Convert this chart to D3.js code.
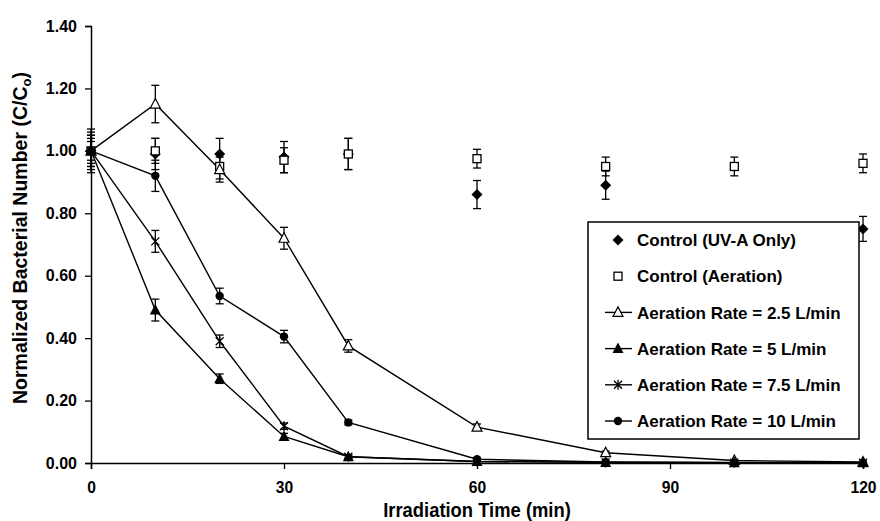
<!DOCTYPE html>
<html><head><meta charset="utf-8">
<script src="https://cdn.jsdelivr.net/npm/d3@7/dist/d3.min.js"></script>
<style>
body{margin:0;background:#fff}
text{font-family:"Liberation Sans",Arial,sans-serif;font-weight:bold;fill:#000}
</style>
</head><body>
<svg id="chart" width="880" height="521"></svg>
<script>
// ---- data ----
const xTicks = [0, 30, 60, 90, 120];
const yTicks = [0, 0.2, 0.4, 0.6, 0.8, 1.0, 1.2, 1.4];

const uvaTimes  = [0, 10, 20, 30, 40, 60, 80, 120];
const uvaValues = [1.00, 0.99, 0.99, 0.98, 0.99, 0.86, 0.89, 0.75];
const uvaErrors = [0.07, 0.05, 0.05, 0.05, 0.05, 0.045, 0.045, 0.04];

const aerTimes  = [0, 10, 20, 30, 40, 60, 80, 100, 120];
const aerValues = [1.00, 1.00, 0.95, 0.97, 0.99, 0.975, 0.95, 0.95, 0.96];
const aerErrors = [0.05, 0.04, 0.04, 0.04, 0.05, 0.03, 0.03, 0.03, 0.03];

const rateTimes = [0, 10, 20, 30, 40, 60, 80, 100, 120];
const rate25Values = [1.00, 1.15, 0.94, 0.72, 0.375, 0.115, 0.033, 0.008, 0.003];
const rate25Errors = [0.06, 0.06, 0.04, 0.035, 0.02, 0.01, 0.005, 0.003, 0.002];
const rate5Values  = [1.00, 0.49, 0.27, 0.085, 0.02, 0.005, 0.002, 0.001, 0.001];
const rate5Errors  = [0.04, 0.035, 0.015, 0.01, 0.005, 0.003, 0.002, 0.001, 0.001];
const rate75Values = [1.00, 0.71, 0.39, 0.118, 0.02, 0.005, 0.002, 0.001, 0.001];
const rate75Errors = [0.03, 0.035, 0.02, 0.01, 0.005, 0.003, 0.002, 0.001, 0.001];
const rate10Values = [1.00, 0.92, 0.535, 0.405, 0.13, 0.012, 0.003, 0.002, 0.001];
const rate10Errors = [0.05, 0.05, 0.025, 0.02, 0.008, 0.004, 0.002, 0.001, 0.001];

const seriesNames = ["Control (UV-A Only)", "Control (Aeration)",
  "Aeration Rate = 2.5 L/min", "Aeration Rate = 5 L/min",
  "Aeration Rate = 7.5 L/min", "Aeration Rate = 10 L/min"];

// ---- setup ----
const svg = d3.select("#chart");
const x = d3.scaleLinear().domain([0, 120]).range([91, 863]);
const y = d3.scaleLinear().domain([0, 1.4]).range([463, 26]);

const series = [
  {name: seriesNames[0], t: uvaTimes, v: uvaValues, e: uvaErrors, marker: "diamond", line: false},
  {name: seriesNames[1], t: aerTimes, v: aerValues, e: aerErrors, marker: "square", line: false},
  {name: seriesNames[2], t: rateTimes, v: rate25Values, e: rate25Errors, marker: "triOpen", line: true},
  {name: seriesNames[3], t: rateTimes, v: rate5Values, e: rate5Errors, marker: "triFilled", line: true},
  {name: seriesNames[4], t: rateTimes, v: rate75Values, e: rate75Errors, marker: "star", line: true},
  {name: seriesNames[5], t: rateTimes, v: rate10Values, e: rate10Errors, marker: "circle", line: true}
];

function drawMarker(g, type, cx, cy) {
  const m = g.append("g").attr("transform", `translate(${cx},${cy})`);
  if (type === "diamond") {
    m.append("path").attr("d", "M0,-5.5L5.5,0L0,5.5L-5.5,0Z").attr("fill", "#000");
  } else if (type === "square") {
    m.append("rect").attr("x", -4).attr("y", -4).attr("width", 8).attr("height", 8)
      .attr("fill", "#fff").attr("stroke", "#000").attr("stroke-width", 1.3);
  } else if (type === "triOpen") {
    m.append("path").attr("d", "M0,-5.5L5,4L-5,4Z").attr("fill", "#fff").attr("stroke", "#000").attr("stroke-width", 1.2);
  } else if (type === "triFilled") {
    m.append("path").attr("d", "M0,-6L5.5,4.5L-5.5,4.5Z").attr("fill", "#000");
  } else if (type === "star") {
    m.append("path").attr("d", "M-4,-4L4,4M-4,4L4,-4M0,-5L0,5").attr("stroke", "#000").attr("stroke-width", 1.3).attr("fill", "none");
  } else if (type === "circle") {
    m.append("circle").attr("r", 4.2).attr("fill", "#000");
  }
}

// axes
const yAxis = d3.axisLeft(y).tickValues(yTicks).tickFormat(d3.format(".2f")).tickSize(6).tickPadding(8);
const gy = svg.append("g").attr("transform", "translate(91,0)").call(yAxis);
gy.select(".domain").attr("stroke-width", 1.5);
gy.selectAll(".tick line").attr("stroke-width", 1.3);
gy.selectAll(".tick text").style("font-size", "16px");

const xAxis = d3.axisBottom(x).tickValues(xTicks).tickFormat(d3.format("d")).tickSize(6).tickPadding(12);
const gx = svg.append("g").attr("transform", "translate(0,463)").call(xAxis);
gx.select(".domain").attr("stroke-width", 1.5);
gx.selectAll(".tick line").attr("stroke-width", 1.3);
gx.selectAll(".tick text").style("font-size", "17px").attr("transform", "scale(0.92,1)");
gx.selectAll("path.domain,.tick line").attr("stroke", "#000");
gy.selectAll("path.domain,.tick line").attr("stroke", "#000");

// axis titles
svg.append("text").attr("transform", "translate(477,517) scale(0.92,1)")
  .attr("text-anchor", "middle").style("font-size", "20px").text("Irradiation Time (min)");
const yt = svg.append("text").attr("transform", "translate(27,238) rotate(-90)")
  .attr("text-anchor", "middle").style("font-size", "19.5px");
yt.append("tspan").text("Normalized Bacterial Number (C/C");
yt.append("tspan").attr("dy", 4).style("font-size", "13px").text("o");
yt.append("tspan").attr("dy", -4).text(")");

// lines
const lineGen = d3.line().x(d => x(d[0])).y(d => y(d[1]));
const plot = svg.append("g");
series.forEach(s => {
  if (s.line) {
    plot.append("path").datum(s.t.map((t, i) => [t, s.v[i]]))
      .attr("d", lineGen).attr("fill", "none").attr("stroke", "#000").attr("stroke-width", 1.4);
  }
});
// error bars
series.forEach(s => {
  s.t.forEach((t, i) => {
    const e = s.e[i];
    if (y(s.v[i] - e) - y(s.v[i] + e) < 3) return;
    const cx = x(t), y1 = y(s.v[i] + e), y2 = y(s.v[i] - e);
    const g = plot.append("g").attr("stroke", "#000").attr("stroke-width", 1.3);
    g.append("line").attr("x1", cx).attr("x2", cx).attr("y1", y1).attr("y2", y2);
    g.append("line").attr("x1", cx - 4).attr("x2", cx + 4).attr("y1", y1).attr("y2", y1);
    g.append("line").attr("x1", cx - 4).attr("x2", cx + 4).attr("y1", y2).attr("y2", y2);
  });
});
// markers
series.forEach(s => {
  s.t.forEach((t, i) => drawMarker(plot, s.marker, x(t), y(s.v[i])));
});

// legend
const lg = svg.append("g");
lg.append("rect").attr("x", 588).attr("y", 222).attr("width", 271).attr("height", 217)
  .attr("fill", "#fff").attr("stroke", "#000").attr("stroke-width", 1.5);
series.forEach((s, i) => {
  const cy = 240 + i * 36.2;
  if (s.line) {
    lg.append("line").attr("x1", 605).attr("x2", 632).attr("y1", cy).attr("y2", cy)
      .attr("stroke", "#000").attr("stroke-width", 1.4);
  }
  drawMarker(lg, s.marker, 618, cy);
  lg.append("text").attr("x", 637).attr("y", cy).attr("dy", "0.36em")
    .style("font-size", "17px").text(s.name);
});
</script>
</body></html>
